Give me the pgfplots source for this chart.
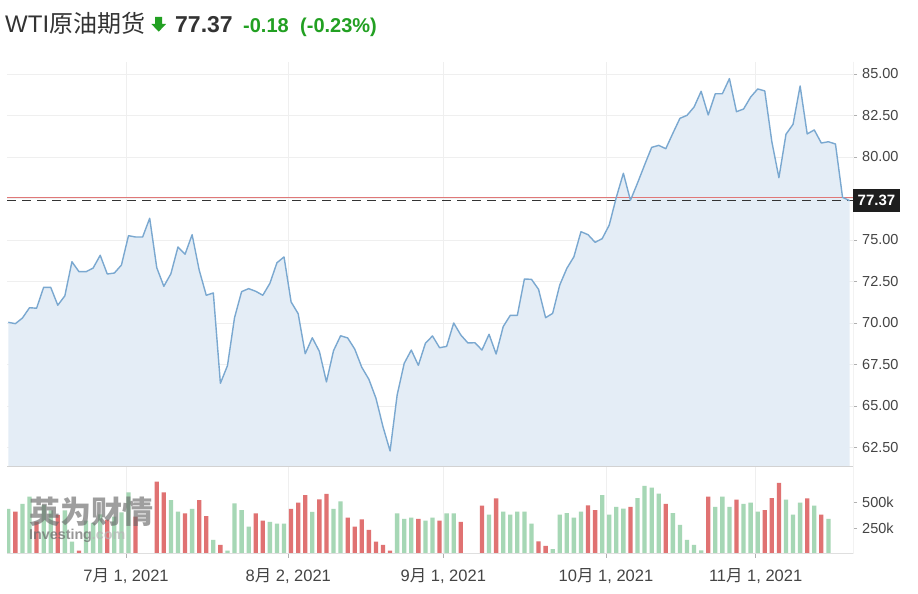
\documentclass[border=0pt]{standalone}
\usepackage{fontspec}
\setmainfont{Liberation Sans}
\newfontfamily\cjk{Noto Sans CJK SC}
\usepackage{pgfplots}
\usepackage{pgfplotstable}
\pgfplotsset{compat=1.18}
\definecolor{areablue}{HTML}{E4EDF6}
\definecolor{lineblue}{HTML}{7AA8D0}
\definecolor{barg}{HTML}{A6D7B5}
\definecolor{barr}{HTML}{E07272}
\definecolor{prevred}{HTML}{E07878}
\definecolor{gridc}{HTML}{EFEFEF}
\definecolor{sepc}{HTML}{D2D2D2}
\definecolor{tickc}{HTML}{B0B0B0}
\definecolor{labc}{HTML}{444444}
\definecolor{titc}{HTML}{333333}
\definecolor{upg}{HTML}{22A022}
\definecolor{boxc}{HTML}{1E1E1E}
\definecolor{wmc}{HTML}{6A6A6A}

\pgfplotstableread{
i c
0 70.04
1 69.96
2 70.30
3 70.92
4 70.89
5 72.15
6 72.15
7 71.07
8 71.64
9 73.69
10 73.09
11 73.09
12 73.31
13 74.08
14 72.95
15 73.01
16 73.49
17 75.26
18 75.18
19 75.18
20 76.31
21 73.33
22 72.21
23 72.97
24 74.58
25 74.14
26 75.32
27 73.19
28 71.67
29 71.81
30 66.37
31 67.43
32 70.32
33 71.89
34 72.07
35 71.91
36 71.67
37 72.39
38 73.63
39 73.98
40 71.27
41 70.56
42 68.15
43 69.11
44 68.29
45 66.45
46 68.33
47 69.23
48 69.10
49 68.43
50 67.33
51 66.61
52 65.47
53 63.75
54 62.29
55 65.66
56 67.57
57 68.37
58 67.45
59 68.78
60 69.22
61 68.51
62 68.59
63 70.00
64 69.28
65 68.80
66 68.81
67 68.37
68 69.32
69 68.13
70 69.78
71 70.46
72 70.46
73 72.65
74 72.63
75 72.03
76 70.32
77 70.58
78 72.29
79 73.29
80 73.99
81 75.50
82 75.32
83 74.86
84 75.08
85 75.90
86 77.57
87 79.02
88 77.39
89 78.43
90 79.52
91 80.58
92 80.70
93 80.50
94 81.43
95 82.33
96 82.51
97 83.01
98 83.96
99 82.53
100 83.81
101 83.81
102 84.72
103 82.73
104 82.89
105 83.61
106 84.10
107 83.98
108 80.92
109 78.75
110 81.37
111 81.97
112 84.28
113 81.39
114 81.63
115 80.84
116 80.92
117 80.78
118 77.57
119 77.37
}\price

\pgfplotstableread{
i v
0 433
2 481
3 551
5 470
6 420
8 420
9 118
11 320
12 300
13 380
15 360
16 400
17 593
23 519
24 407
26 433
29 135
31 32
32 487
33 423
34 263
37 308
38 292
39 292
43 404
46 433
47 507
55 391
56 337
57 349
59 321
60 349
62 391
63 391
68 378
70 407
71 378
72 407
73 407
74 292
77 48
78 378
79 394
80 349
81 407
84 567
85 378
86 452
87 436
89 538
90 654
91 638
92 580
94 394
95 279
96 135
97 87
98 36
100 452
101 551
102 452
104 481
105 494
106 407
110 522
111 378
112 494
114 465
116 337
}\gvol

\pgfplotstableread{
i v
1 407
4 311
7 375
10 32
14 330
18 359
21 695
22 593
25 391
27 519
28 365
30 87
35 391
36 321
40 433
41 494
42 567
44 526
45 577
48 349
49 263
50 334
51 231
52 118
53 87
54 32
58 337
61 321
64 308
67 465
69 536
75 122
76 77
82 467
83 423
88 452
93 481
99 551
103 522
107 423
108 538
109 683
113 536
115 378
}\rvol

\begin{document}
\begin{tikzpicture}[x=1pt,y=1pt]
\path[use as bounding box] (0,0) rectangle (918,594);
\fill[white] (0,0) rectangle (918,594);

\begin{axis}[
  name=price,
  at={(7pt,127.3pt)}, anchor=south west,
  scale only axis, width=846pt, height=404.7pt,
  xmin=-0.184, xmax=119.48, ymin=61.343, ymax=85.723,
  axis line style={draw=none},
  xtick={16.65,39.60,61.53,84.54,105.71}, xticklabels={},
  xtick style={draw=none},
  xmajorgrids, ymajorgrids,
  major grid style={color=gridc, line width=0.9pt},
  ytick={62.5,65,67.5,70,72.5,75,77.5,80,82.5,85},
  yticklabels={62.50,65.00,67.50,70.00,72.50,75.00,,80.00,82.50,85.00},
  ytick pos=right, yticklabel pos=right,
  tick align=outside, major tick length=4pt,
  ytick style={color=tickc, line width=0.8pt},
  yticklabel style={font=\fontsize{14.5}{16}\selectfont, text=labc, inner sep=0pt, xshift=5pt},
]
\addplot[fill=areablue, draw=none] table[x=i,y=c]{\price} \closedcycle;
\draw[prevred, line width=1pt] (axis cs:-0.184,77.55) -- (axis cs:119.48,77.55);
\draw[black!80, line width=1.2pt, dash pattern=on 9pt off 6pt] (axis cs:-0.184,77.37) -- (axis cs:119.48,77.37);
\addplot[color=lineblue, line width=1.4pt, line join=round] table[x=i,y=c]{\price};
\coordinate (lastp) at (axis cs:119.48,77.37);
\end{axis}

\begin{axis}[
  name=vol,
  at={(7pt,40pt)}, anchor=south west,
  scale only axis, width=846pt, height=87pt,
  xmin=-0.184, xmax=119.48, ymin=0, ymax=836.5,
  axis line style={draw=none},
  xtick={16.65,39.60,61.53,84.54,105.71},
  xticklabels={{7{\cjk 月} 1, 2021},{8{\cjk 月} 2, 2021},{9{\cjk 月} 1, 2021},{10{\cjk 月} 1, 2021},{11{\cjk 月} 1, 2021}},
  xtick pos=bottom,
  xmajorgrids,
  major grid style={color=gridc, line width=0.9pt},
  ytick={250,500}, yticklabels={250k,500k},
  ytick pos=right, yticklabel pos=right,
  tick align=outside, major tick length=4pt,
  tick style={color=tickc, line width=0.8pt},
  yticklabel style={font=\fontsize{14.5}{16}\selectfont, text=labc, inner sep=0pt, xshift=5pt},
  xticklabel style={font=\fontsize{16.5}{18}\selectfont, text=labc, inner sep=0pt, anchor=base, yshift=-24pt},
]
\addplot[ybar, bar width=4.3pt, bar shift=0pt, fill=barg, draw=none] table[x=i,y=v]{\gvol};
\addplot[ybar, bar width=4.3pt, bar shift=0pt, fill=barr, draw=none] table[x=i,y=v]{\rvol};
\end{axis}

% panel frames
\draw[sepc, line width=1.5pt] (price.south west) -- (price.south east);
\draw[sepc!70, line width=1pt] (vol.south west) -- (vol.south east);
\draw[gridc!80!black!20, line width=0.8pt] (853,532) -- (853,40);

% last price box
\node[fill=boxc, text=white, font=\bfseries\fontsize{15}{16}\selectfont, inner xsep=4.5pt, inner ysep=0pt, minimum height=23.5pt, anchor=west] at (lastp) {77.37};

% watermark
\node[anchor=base west, inner sep=0pt, text=wmc, opacity=0.65] at (29,70) {\cjk\bfseries\fontsize{31}{31}\selectfont 英为财情};
\node[anchor=base west, inner sep=0pt, text=wmc, opacity=0.7] at (29,54) {\bfseries\fontsize{14.3}{15}\selectfont Investing\textcolor{wmc!50}{.com}};

% title
\node[anchor=base west, inner sep=0pt, text=titc] at (5,561) {\fontsize{24}{26}\selectfont WTI{\cjk 原油期货}};
\fill[upg] (155.2,577) -- (162.2,577) -- (162.2,570) -- (166,570) -- (158.7,562.3) -- (151.4,570) -- (155.2,570) -- cycle;
\node[anchor=base west, inner sep=0pt, text=titc] at (175,561) {\bfseries\fontsize{23}{26}\selectfont 77.37};
\node[anchor=base west, inner sep=0pt, text=upg] at (243,561) {\bfseries\fontsize{20}{22}\selectfont -0.18};
\node[anchor=base west, inner sep=0pt, text=upg] at (300,561) {\bfseries\fontsize{20}{22}\selectfont (-0.23\%)};
\end{tikzpicture}
\end{document}
